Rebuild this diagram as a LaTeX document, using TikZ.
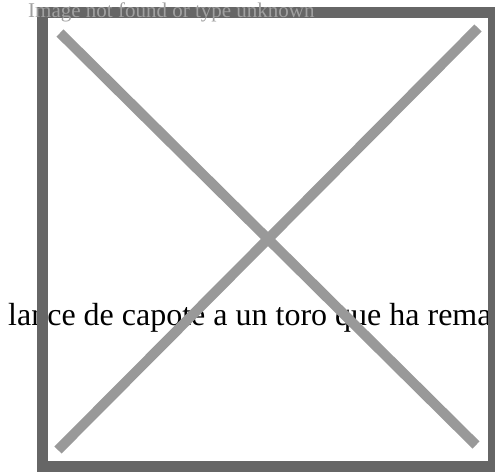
\documentclass[tikz,border=0pt]{standalone}
\usepackage{fontspec}
\setmainfont{Liberation Serif}
\definecolor{framegray}{HTML}{666666}
\definecolor{crossgray}{HTML}{999999}
\definecolor{altgray}{HTML}{A0A0A0}
\begin{document}
\begin{tikzpicture}[x=1pt, y=-1pt]
    % Bounding box
    \useasboundingbox (0,0) rectangle (495,473);
    \clip (0,0) rectangle (495,473);

    % Caption
    \node (caption) [anchor=base west, inner sep=0, font=\fontsize{32}{32}\selectfont] at (8,325) {lance de capote a un toro que ha rema};

    % Frame and cross
    \draw[line width=11pt, framegray] (42.5,12.5) rectangle (493.5,466.5);
    \coordinate (tl) at (60,33);
    \coordinate (br) at (476,445);
    \coordinate (tr) at (478,28);
    \coordinate (bl) at (58,450);
    \draw[line width=10pt, crossgray] (tl) -- (br);
    \draw[line width=10pt, crossgray] (tr) -- (bl);

    % Alt text
    \node (alttext) [anchor=base west, inner sep=0, text=altgray, font=\fontsize{21}{21}\selectfont] at (28,18) {Image not found or type unknown};
\end{tikzpicture}
\end{document}
